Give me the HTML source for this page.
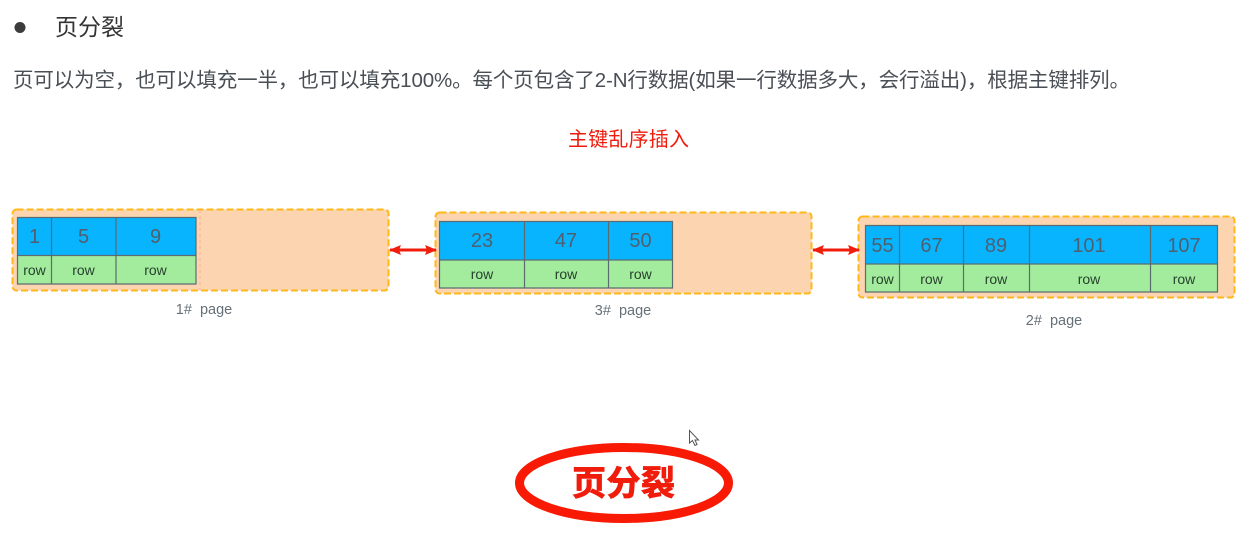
<!DOCTYPE html>
<html><head><meta charset="utf-8">
<style>
html,body{margin:0;padding:0;background:#fff;width:1240px;height:540px;overflow:hidden}
svg{display:block}
text{font-family:"Liberation Sans","Noto Sans CJK SC",sans-serif}
.n{font-size:20px;fill:#4f5f70;text-anchor:middle}
.r{font-size:14px;fill:#26402c;text-anchor:middle}
.l{font-size:14.5px;fill:#667078;text-anchor:middle;white-space:pre}
</style></head><body>
<svg width="1240" height="540" viewBox="0 0 1240 540" xmlns="http://www.w3.org/2000/svg">
<defs>
<marker id="a" viewBox="0 0 12 10" refX="11" refY="5" markerWidth="12" markerHeight="10" markerUnits="userSpaceOnUse" orient="auto-start-reverse"><path d="M0 0L12 5L0 10L2 5Z" fill="#f01c0c"/></marker>
</defs>
<circle cx="20" cy="27.5" r="5.5" fill="#3c3c3c"/>
<text x="55" y="35" font-size="23" fill="#333">页分裂</text>
<text x="13" y="87" font-size="20.5" fill="#4a4f55" textLength="1117" lengthAdjust="spacing">页可以为空，也可以填充一半，也可以填充100%。每个页包含了2-N行数据(如果一行数据多大，会行溢出)，根据主键排列。</text>
<text x="568" y="146" font-size="20" fill="#ee1c0c" textLength="121">主键乱序插入</text>

<!-- page 1 -->
<rect x="12.5" y="209.5" width="376" height="81" rx="4" fill="#fdd4b0" stroke="#ffb81a" stroke-width="2" stroke-dasharray="7 3"/>
<line x1="200" y1="210" x2="200" y2="290" stroke="#f5b090" stroke-dasharray="3 3"/>
<rect x="17.5" y="217.5" width="179" height="38" fill="#09b4ff"/>
<rect x="17.5" y="255.5" width="179" height="28.5" fill="#a3ec9e"/>
<path d="M17.5 217.5H196V284H17.5ZM17.5 255.5H196M51.5 217.5V284M116 217.5V284" fill="none" stroke="#5b6c70" stroke-width="1.2"/>
<text class="n" x="34.5" y="243">1</text><text class="n" x="83.5" y="243">5</text><text class="n" x="155.5" y="243">9</text>
<text class="r" x="34.5" y="275">row</text><text class="r" x="83.5" y="275">row</text><text class="r" x="155.5" y="275">row</text>
<text class="l" x="204" y="314" xml:space="preserve">1#  page</text>

<!-- page 3 -->
<rect x="435.5" y="212.5" width="376" height="81" rx="4" fill="#fdd4b0" stroke="#ffb81a" stroke-width="2" stroke-dasharray="7 3"/>
<rect x="439.5" y="221.5" width="233" height="38.5" fill="#09b4ff"/>
<rect x="439.5" y="260" width="233" height="28" fill="#a3ec9e"/>
<path d="M439.5 221.5H672.5V288H439.5ZM439.5 260H672.5M524.5 221.5V288M608.5 221.5V288" fill="none" stroke="#5b6c70" stroke-width="1.2"/>
<text class="n" x="482" y="247">23</text><text class="n" x="566" y="247">47</text><text class="n" x="640.5" y="247">50</text>
<text class="r" x="482" y="279">row</text><text class="r" x="566" y="279">row</text><text class="r" x="640.5" y="279">row</text>
<text class="l" x="623" y="315" xml:space="preserve">3#  page</text>

<!-- page 2 -->
<rect x="858.5" y="216.5" width="376" height="81" rx="4" fill="#fdd4b0" stroke="#ffb81a" stroke-width="2" stroke-dasharray="7 3"/>
<rect x="865.5" y="225.5" width="352" height="38.5" fill="#09b4ff"/>
<rect x="865.5" y="264" width="352" height="28" fill="#a3ec9e"/>
<path d="M865.5 225.5H1217.5V292H865.5ZM865.5 264H1217.5M899.5 225.5V292M963.5 225.5V292M1029.5 225.5V292M1150.5 225.5V292" fill="none" stroke="#5b6c70" stroke-width="1.2"/>
<text class="n" x="882.5" y="252">55</text><text class="n" x="931.5" y="252">67</text><text class="n" x="996" y="252">89</text><text class="n" x="1089" y="252">101</text><text class="n" x="1184" y="252">107</text>
<text class="r" x="882.5" y="284">row</text><text class="r" x="931.5" y="284">row</text><text class="r" x="996" y="284">row</text><text class="r" x="1089" y="284">row</text><text class="r" x="1184" y="284">row</text>
<text class="l" x="1054" y="325" xml:space="preserve">2#  page</text>

<!-- arrows -->
<line x1="390" y1="250" x2="436" y2="250" stroke="#f01c0c" stroke-width="3" marker-start="url(#a)" marker-end="url(#a)"/>
<line x1="813" y1="250" x2="859" y2="250" stroke="#f01c0c" stroke-width="3" marker-start="url(#a)" marker-end="url(#a)"/>

<!-- cursor -->
<path d="M689.5 430.5V443L692.5 440.5L695 445.5L697 444.5L695 440H698.5Z" fill="#fff" stroke="#555" stroke-width="1"/>

<!-- oval -->
<ellipse cx="624" cy="483" rx="104.5" ry="35.5" fill="#fff" stroke="#f81a04" stroke-width="9"/>
<text x="572" y="495" font-size="34" font-weight="700" fill="#f01c0c" stroke="#f01c0c" stroke-width="0.9" textLength="103">页分裂</text>
</svg>
</body></html>
